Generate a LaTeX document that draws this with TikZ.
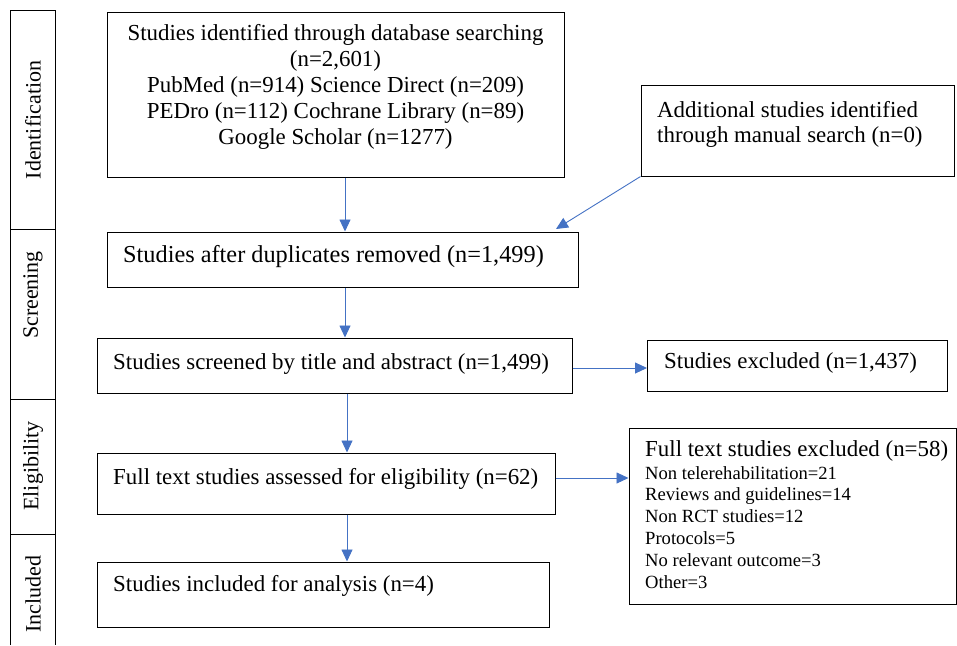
\documentclass[tikz,border=0pt]{standalone}
\usepackage{fontspec}
\setmainfont{Liberation Serif}
\usetikzlibrary{arrows.meta,calc}
\definecolor{arrblue}{HTML}{4472C4}
\tikzset{
  box/.style={draw=black, line width=1pt, inner sep=0pt, minimum width=#1},
  txt/.style={inner sep=0pt, font=\fontsize{22.9}{25.8}\selectfont},
  bigtxt/.style={inner sep=0pt, font=\fontsize{24.3}{27}\selectfont},
  small/.style={inner sep=0pt, font=\fontsize{18.6}{21.8}\selectfont},
  arr/.style={draw=arrblue, line width=0.9pt, -{Triangle[length=12pt,width=11pt]}},
  side/.style={inner sep=0pt, rotate=90, font=\fontsize{22}{25}\selectfont}
}
\begin{document}
\begin{tikzpicture}[x=1pt,y=-1pt]
\useasboundingbox (0,0) rectangle (957,645);
% sidebar
\draw[line width=1pt] (10,645) -- (10,10) -- (55,10) -- (55,645);
\draw[line width=1pt] (10,229) -- (55,229);
\draw[line width=1pt] (10,399) -- (55,399);
\draw[line width=1pt] (10,534) -- (55,534);
\node[side] (sid) at (33,120) {Identification};
\node[side] (sscr) at (33,295) {Screening};
\node[side] (seli) at (33,466) {Eligibility};
\node[side] (sinc) at (33,594) {Included};
% boxes
\node[box=457pt, minimum height=165pt] (b1) at (335.5,94.5) {};
\node[txt, align=center] (b1t) at (335.5,87) {Studies identified through database searching\\(n=2,601)\\PubMed (n=914) Science Direct (n=209)\\PEDro (n=112) Cochrane Library (n=89)\\Google Scholar (n=1277)};
\node[box=313pt, minimum height=91pt] (add) at (797.5,130.5) {};
\node[txt, align=left, anchor=west] (addt) at (657,124.5) {Additional studies identified\\through manual search (n=0)};
\node[box=471pt, minimum height=55pt] (b2) at (342.5,259.5) {};
\node[bigtxt, anchor=west] (b2t) at (123,257) {Studies after duplicates removed (n=1,499)};
\node[box=475pt, minimum height=55pt] (b3) at (334.5,365.5) {};
\node[txt, anchor=west] (b3t) at (113,364) {Studies screened by title and abstract (n=1,499)};
\node[box=300pt, minimum height=51pt] (ex1) at (797.5,365.5) {};
\node[txt, anchor=west] (ex1t) at (664,363) {Studies excluded (n=1,437)};
\node[box=458pt, minimum height=61pt] (b4) at (326,483.5) {};
\node[txt, anchor=west] (b4t) at (113,479) {Full text studies assessed for eligibility (n=62)};
\node[box=327pt, minimum height=176pt] (ex2) at (792.5,516) {};
\node[txt, anchor=west] (ex2h) at (645,451) {Full text studies excluded (n=58)};
\node[small, align=left, anchor=north west] (ex2t) at (645,466) {Non telerehabilitation=21\\Reviews and guidelines=14\\Non RCT studies=12\\Protocols=5\\No relevant outcome=3\\Other=3};
\node[box=452pt, minimum height=65pt] (b5) at (323,594.5) {};
\node[txt, anchor=west] (b5t) at (113,586) {Studies included for analysis (n=4)};
% connectors
\coordinate (cA) at (345,0);
\coordinate (cB) at (347,0);
\coordinate (hA) at (0,368);
\coordinate (hB) at (0,478);
\coordinate (dEnd) at (556,229);
\draw[arr] (b1.south -| cA) -- (b2.north -| cA);
\draw[arr] (b2.south -| cA) -- (b3.north -| cA);
\draw[arr] (b3.south -| cB) -- (b4.north -| cB);
\draw[arr] (b4.south -| cB) -- (b5.north -| cB);
\draw[arr] (b3.east |- hA) -- (ex1.west |- hA);
\draw[arr] (b4.east |- hB) -- (ex2.west |- hB);
\draw[arr] (add.south west) -- (dEnd);
\end{tikzpicture}
\end{document}
